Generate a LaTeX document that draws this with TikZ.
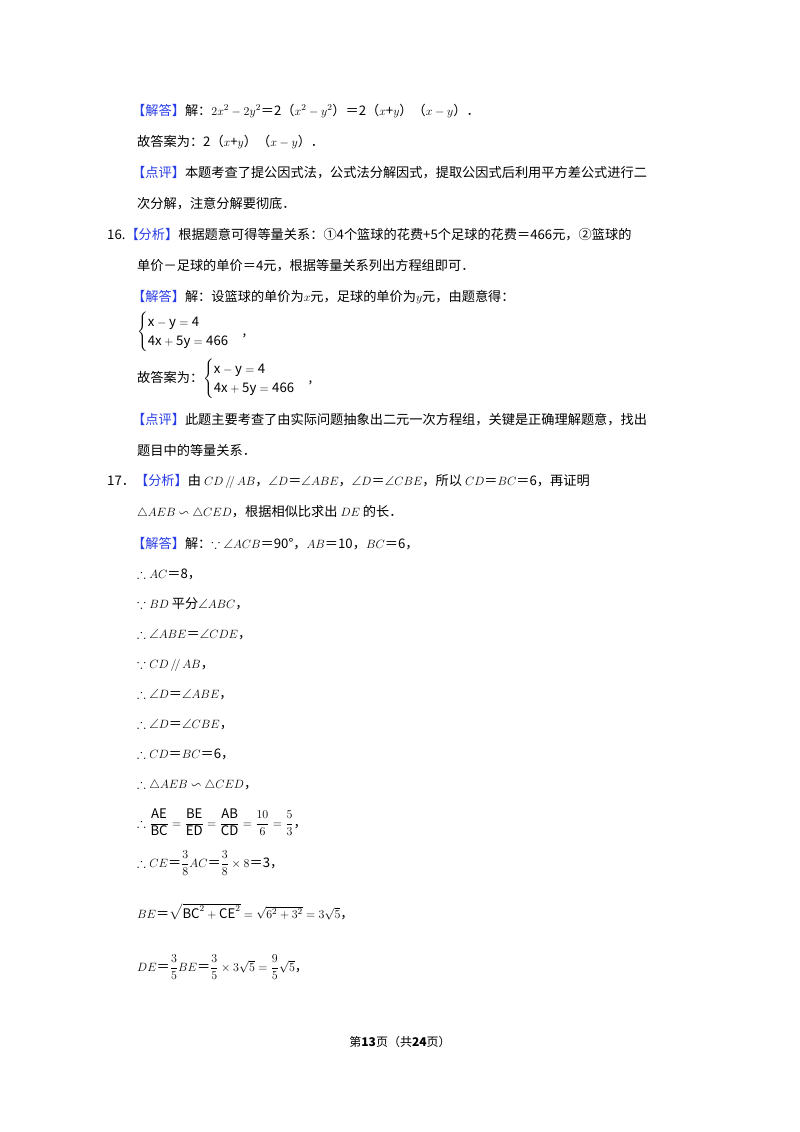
\documentclass[tikz,border=0pt]{standalone}
\usepackage{amsmath,amssymb}
\usepackage{fontspec}
\setmainfont{Noto Sans CJK SC}
\definecolor{tagblue}{RGB}{40,60,230}
\newcommand{\tg}[1]{\textcolor{tagblue}{【#1】}}
\begin{document}
\begin{tikzpicture}[x=1pt,y=-1pt,
  ln/.style={anchor=base west,inner sep=0pt,font=\fontsize{13.2}{16}\selectfont}]
\useasboundingbox (0,0) rectangle (800,1132);
\fill[white] (0,0) rectangle (800,1132);
\node[ln] (l1) at (132,115) {\tg{解答}解：$2x^2-2y^2$＝2（$x^2-y^2$）＝2（$x$+$y$）（$x-y$）．};
\node[ln] (l2) at (137,146) {故答案为：2（$x$+$y$）（$x-y$）．};
\node[ln] (l3) at (132,177) {\tg{点评}本题考查了提公因式法，公式法分解因式，提取公因式后利用平方差公式进行二};
\node[ln] (l4) at (137,208) {次分解，注意分解要彻底．};
\node[ln] (l5) at (107,239) {16.\tg{分析}根据题意可得等量关系：①4个篮球的花费+5个足球的花费＝466元，②篮球的};
\node[ln] (l6) at (137,270) {单价－足球的单价＝4元，根据等量关系列出方程组即可．};
\node[ln] (l7) at (132,301) {\tg{解答}解：设篮球的单价为$x$元，足球的单价为$y$元，由题意得：};
\node[ln] (l8) at (137,335) {$\begin{cases}\mathrm{x-y=4}\\ \mathrm{4x+5y=466}\end{cases}$,};
\node[ln] (l9) at (137,382) {故答案为：$\begin{cases}\mathrm{x-y=4}\\ \mathrm{4x+5y=466}\end{cases}$,};
\node[ln] (l10) at (132,424) {\tg{点评}此题主要考查了由实际问题抽象出二元一次方程组，关键是正确理解题意，找出};
\node[ln] (l11) at (137,455) {题目中的等量关系．};
\node[ln] (l12) at (107,485) {17．\tg{分析}由 $CD\,/\!/\,AB$，$\angle D$＝$\angle ABE$，$\angle D$＝$\angle CBE$，所以 $CD$＝$BC$＝6，再证明};
\node[ln] (l13) at (137,516) {$\triangle AEB\backsim\triangle CED$，根据相似比求出 $DE$ 的长．};
\node[ln] (l14) at (132,548) {\tg{解答}解：$\because\angle ACB$＝90°，$AB$＝10，$BC$＝6，};
\node[ln] (l15) at (137,578) {$\therefore AC$＝8，};
\node[ln] (l16) at (137,608) {$\because BD$ 平分$\angle ABC$，};
\node[ln] (l17) at (137,638) {$\therefore\angle ABE$＝$\angle CDE$，};
\node[ln] (l18) at (137,668) {$\because CD\,/\!/\,AB$，};
\node[ln] (l19) at (137,698) {$\therefore\angle D$＝$\angle ABE$，};
\node[ln] (l20) at (137,728) {$\therefore\angle D$＝$\angle CBE$，};
\node[ln] (l21) at (137,758) {$\therefore CD$＝$BC$＝6，};
\node[ln] (l22) at (137,788) {$\therefore\triangle AEB\backsim\triangle CED$，};
\node[ln] (l23) at (137,827) {$\therefore\dfrac{\mathrm{AE}}{\mathrm{BC}}=\dfrac{\mathrm{BE}}{\mathrm{ED}}=\dfrac{\mathrm{AB}}{\mathrm{CD}}=\dfrac{10}{6}=\dfrac{5}{3}$，};
\node[ln] (l24) at (137,867) {$\therefore CE$＝$\dfrac{3}{8}AC$＝$\dfrac{3}{8}\times8$＝3，};
\node[ln] (l25) at (137,918) {$BE$＝$\sqrt{\mathrm{BC}^2+\mathrm{CE}^2}=\sqrt{6^2+3^2}=3\sqrt{5}$，};
\node[ln] (l26) at (137,971) {$DE$＝$\dfrac{3}{5}BE$＝$\dfrac{3}{5}\times3\sqrt{5}=\dfrac{9}{5}\sqrt{5}$，};
\node[anchor=base,inner sep=0pt,font=\fontsize{12}{14}\selectfont] (ft) at (400,1046) {第\textbf{13}页（共\textbf{24}页）};
\end{tikzpicture}
\end{document}
